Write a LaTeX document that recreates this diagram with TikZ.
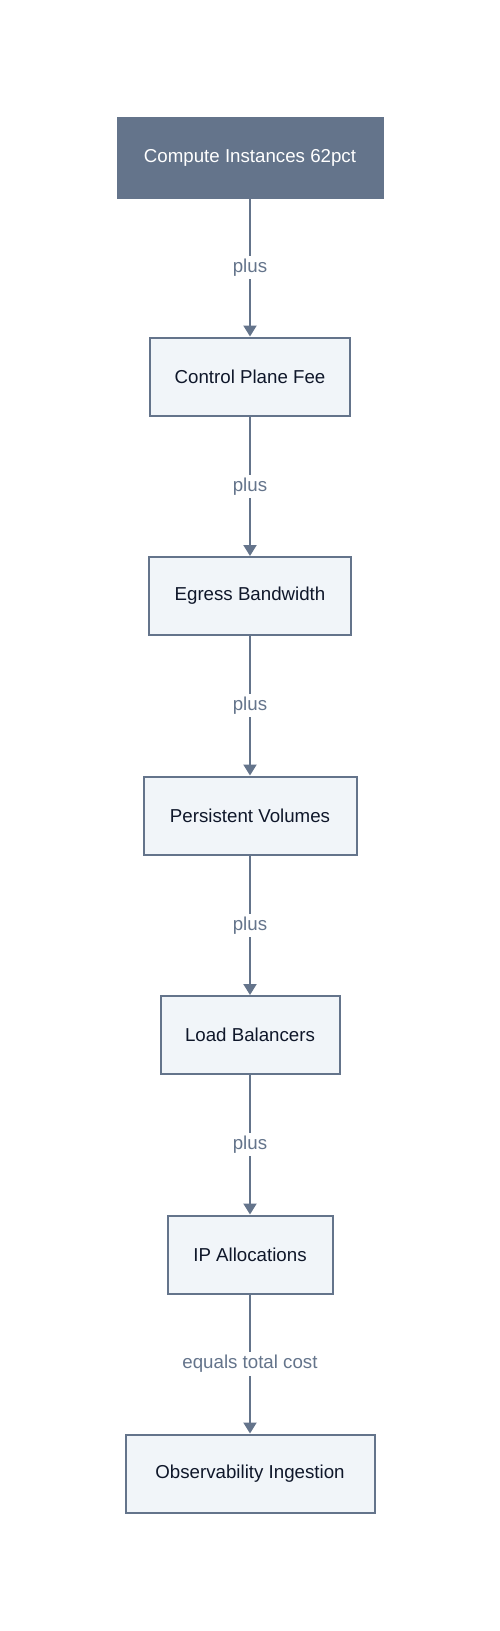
\documentclass[tikz,border=0pt]{standalone}
\usepackage{fontspec}
\setmainfont{Liberation Sans}
\usetikzlibrary{arrows.meta}
\definecolor{slate}{HTML}{64748B}
\definecolor{boxfill}{HTML}{F1F5F9}
\definecolor{ink}{HTML}{0F172A}
\tikzset{
  box/.style={draw=slate, line width=2pt, fill=boxfill, text=ink, minimum height=78pt, inner sep=0pt, font=\fontsize{18.7}{22}\selectfont},
  topbox/.style={box, fill=slate, text=white},
  link/.style={draw=slate, line width=2pt, -{Triangle[length=11pt,width=13pt]}},
  lbl/.style={fill=white, text=slate, inner sep=3pt, font=\fontsize{18.7}{22}\selectfont}
}
\begin{document}
\begin{tikzpicture}[x=1pt,y=-1pt]
\useasboundingbox (0,0) rectangle (500,1631);
\fill[white] (0,0) rectangle (500,1631);
\node[topbox, minimum width=265pt, minimum height=80pt] (n1) at (250,157.5) {Compute Instances 62pct};
\node[box, minimum width=200pt] (n2) at (250,376.5) {Control Plane Fee};
\node[box, minimum width=202pt] (n3) at (250,596) {Egress Bandwidth};
\node[box, minimum width=213pt] (n4) at (250,815.5) {Persistent Volumes};
\node[box, minimum width=179pt] (n5) at (250,1035) {Load Balancers};
\node[box, minimum width=165pt] (n6) at (250,1254.5) {IP Allocations};
\node[box, minimum width=249pt] (n7) at (250,1473.5) {Observability Ingestion};
\draw[link] (n1) -- node[lbl] {plus} (n2);
\draw[link] (n2) -- node[lbl] {plus} (n3);
\draw[link] (n3) -- node[lbl] {plus} (n4);
\draw[link] (n4) -- node[lbl] {plus} (n5);
\draw[link] (n5) -- node[lbl] {plus} (n6);
\draw[link] (n6) -- node[lbl] {equals total cost} (n7);
\end{tikzpicture}
\end{document}
